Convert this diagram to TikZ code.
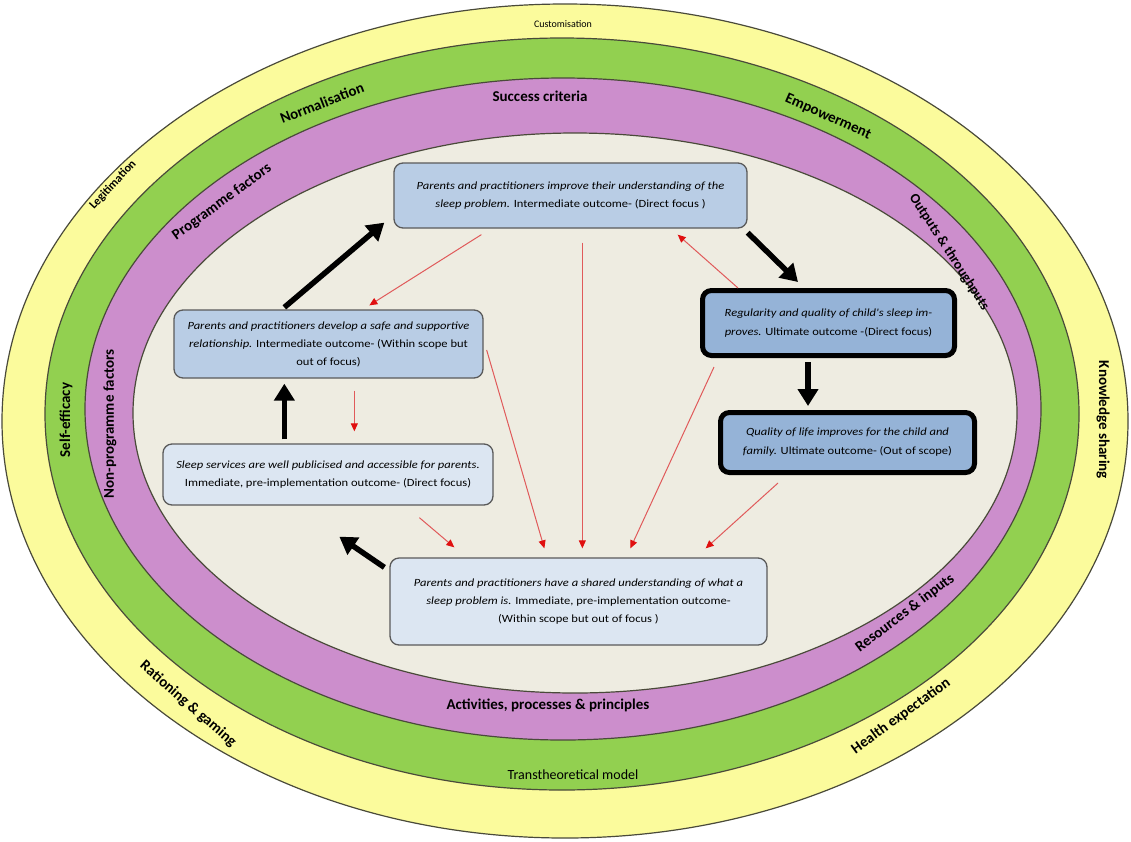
\documentclass[tikz,border=0pt]{standalone}
\usepackage{fontspec}
\setmainfont{Carlito}
\newfontfamily\boxfont[FakeStretch=1.14]{Carlito}
\usetikzlibrary{arrows.meta,calc}
\definecolor{ylw}{HTML}{FBFB9C}
\definecolor{grn}{HTML}{92D050}
\definecolor{prp}{HTML}{CC8ECC}
\definecolor{bge}{HTML}{EEECE1}
\definecolor{ringedge}{HTML}{4A4A3A}
\definecolor{boxedge}{HTML}{5A5A5A}
\definecolor{bluea}{HTML}{B9CDE5}
\definecolor{blueb}{HTML}{DCE6F2}
\definecolor{bluec}{HTML}{95B3D7}
\definecolor{redl}{HTML}{E05A5A}
\definecolor{redt}{HTML}{E01010}
\begin{document}
\begin{tikzpicture}[x=1pt,y=-1pt,
  ringfill/.style={draw=ringedge, line width=1.2pt},
  box/.style={draw=boxedge, line width=1.3pt, rounded corners=9pt, align=center,
    font=\boxfont\fontsize{11}{18}\selectfont, inner sep=0pt},
  strongbox/.style={draw=black, line width=5pt, rounded corners=9pt, align=center,
    font=\boxfont\fontsize{11}{19}\selectfont, inner sep=0pt, fill=bluec},
  lab/.style={font=\fontsize{15}{17}\selectfont\bfseries, inner sep=0pt},
  smalllab/.style={font=\fontsize{10}{12}\selectfont, inner sep=0pt},
  bigarrow/.style={line width=5.5pt, -{Triangle[length=17pt,width=20pt]}},
  redarrow/.style={draw=redl, line width=1pt, -{Triangle[length=8pt,width=7pt,color=redt]}}
]
\useasboundingbox (0,0) rectangle (1131,841);
\fill[white] (0,0) rectangle (1131,841);
% rings
\filldraw[ringfill, fill=ylw] (565,421) ellipse [x radius=563pt, y radius=417pt];
\filldraw[ringfill, fill=grn] (562,414) ellipse [x radius=517pt, y radius=376pt];
\filldraw[ringfill, fill=prp] (563,409) ellipse [x radius=478pt, y radius=331pt];
\filldraw[ringfill, fill=bge] (575,413) ellipse [x radius=442pt, y radius=280pt];
% ring labels
\node[smalllab] (cus) at (563,24) {Customisation};
\node[lab, rotate=21] (nrm) at (322,103) {Normalisation};
\node[lab] (suc) at (540,96) {Success criteria};
\node[lab, rotate=-24] (emp) at (828,117) {Empowerment};
\node[lab, font=\fontsize{12}{14}\selectfont\bfseries, rotate=47] (leg) at (113,185) {Legitimation};
\node[lab, rotate=36] (prg) at (222,202) {Programme factors};
\node[lab, font=\fontsize{14}{16}\selectfont\bfseries, rotate=-57] (out) at (949,252) {Outputs \& throughputs};
\node[lab, rotate=90] (sef) at (66,420) {Self-efficacy};
\node[lab, rotate=90] (npf) at (110,424) {Non-programme factors};
\node[lab, rotate=-90] (kns) at (1103,420) {Knowledge sharing};
\node[lab, rotate=37] (res) at (905,613) {Resources \& inputs};
\node[lab] (act) at (548,705) {Activities, processes \& principles};
\node[lab, rotate=-41] (rat) at (188,704) {Rationing \& gaming};
\node[lab, font=\fontsize{14}{16}\selectfont] (tra) at (573,775) {Transtheoretical model};
\node[lab, rotate=36] (hea) at (901,716) {Health expectation};
% boxes
\node[box, fill=bluea, minimum width=353pt, minimum height=65pt] (tbox) at (570.5,195.5)
  {\textit{Parents and practitioners improve their understanding of the}\\
   \textit{sleep problem.} Intermediate outcome- (Direct focus )};
\node[box, fill=bluea, minimum width=309pt, minimum height=68pt] (lbox) at (328.5,344)
  {\textit{Parents and practitioners develop a safe and supportive}\\
   \textit{relationship.} Intermediate outcome- (Within scope but\\
   out of focus)};
\node[box, fill=blueb, minimum width=330pt, minimum height=61pt] (sbox) at (328,474.5)
  {\textit{Sleep services are well publicised and accessible for parents.}\\
   Immediate, pre-implementation outcome- (Direct focus)};
\node[box, fill=blueb, minimum width=377pt, minimum height=87pt] (bbox) at (578.5,601.5)
  {\textit{Parents and practitioners have a shared understanding of what a}\\
   \textit{sleep problem is.} Immediate, pre-implementation outcome-\\
   (Within scope but out of focus )};
\node[strongbox, minimum width=252pt, minimum height=65pt] (rbox) at (828.5,323)
  {\textit{Regularity and quality of child's sleep im-}\\
   \textit{proves.} Ultimate outcome -(Direct focus)};
\node[strongbox, minimum width=254pt, minimum height=60pt] (qbox) at (847.5,442.5)
  {\textit{Quality of life improves for the child and}\\
   \textit{family.} Ultimate outcome- (Out of scope)};
% black arrows
\draw[bigarrow] ($(lbox.north west)+(111,-2)$) -- ($(tbox.south west)+(-9,-6)$);
\draw[bigarrow] ($(tbox.south east)+(0,4)$) -- ($(rbox.north west)+(98,-6)$);
\draw[bigarrow] ($(rbox.south west)+(108,4)$) -- ($(qbox.north west)+(90,-4)$);
\draw[bigarrow] ($(sbox.north west)+(122,-4)$) -- ($(lbox.south west)+(111,5)$);
\draw[bigarrow] ($(bbox.north west)+(-5,10)$) -- ($(sbox.south west)+(177,31)$);
% red arrows
\draw[redarrow] ($(tbox.south west)+(88,6)$) -- ($(lbox.north west)+(196,-4)$);
\draw[redarrow] ($(tbox.south west)+(189,14)$) -- ($(bbox.north west)+(193,-9)$);
\draw[redarrow] ($(rbox.north west)+(38,0)$) -- ($(tbox.south east)+(-70,6)$);
\draw[redarrow] ($(lbox.south west)+(181,12)$) -- ($(sbox.north west)+(192,-12)$);
\draw[redarrow] ($(sbox.south west)+(257,12)$) -- ($(bbox.north west)+(65,-10)$);
\draw[redarrow] ($(lbox.east)+(3,6)$) -- ($(bbox.north west)+(155,-9)$);
\draw[redarrow] ($(rbox.south west)+(14,9)$) -- ($(bbox.north west)+(241,-9)$);
\draw[redarrow] ($(qbox.south west)+(60,8)$) -- ($(bbox.north east)+(-62,-9)$);
\end{tikzpicture}
\end{document}
